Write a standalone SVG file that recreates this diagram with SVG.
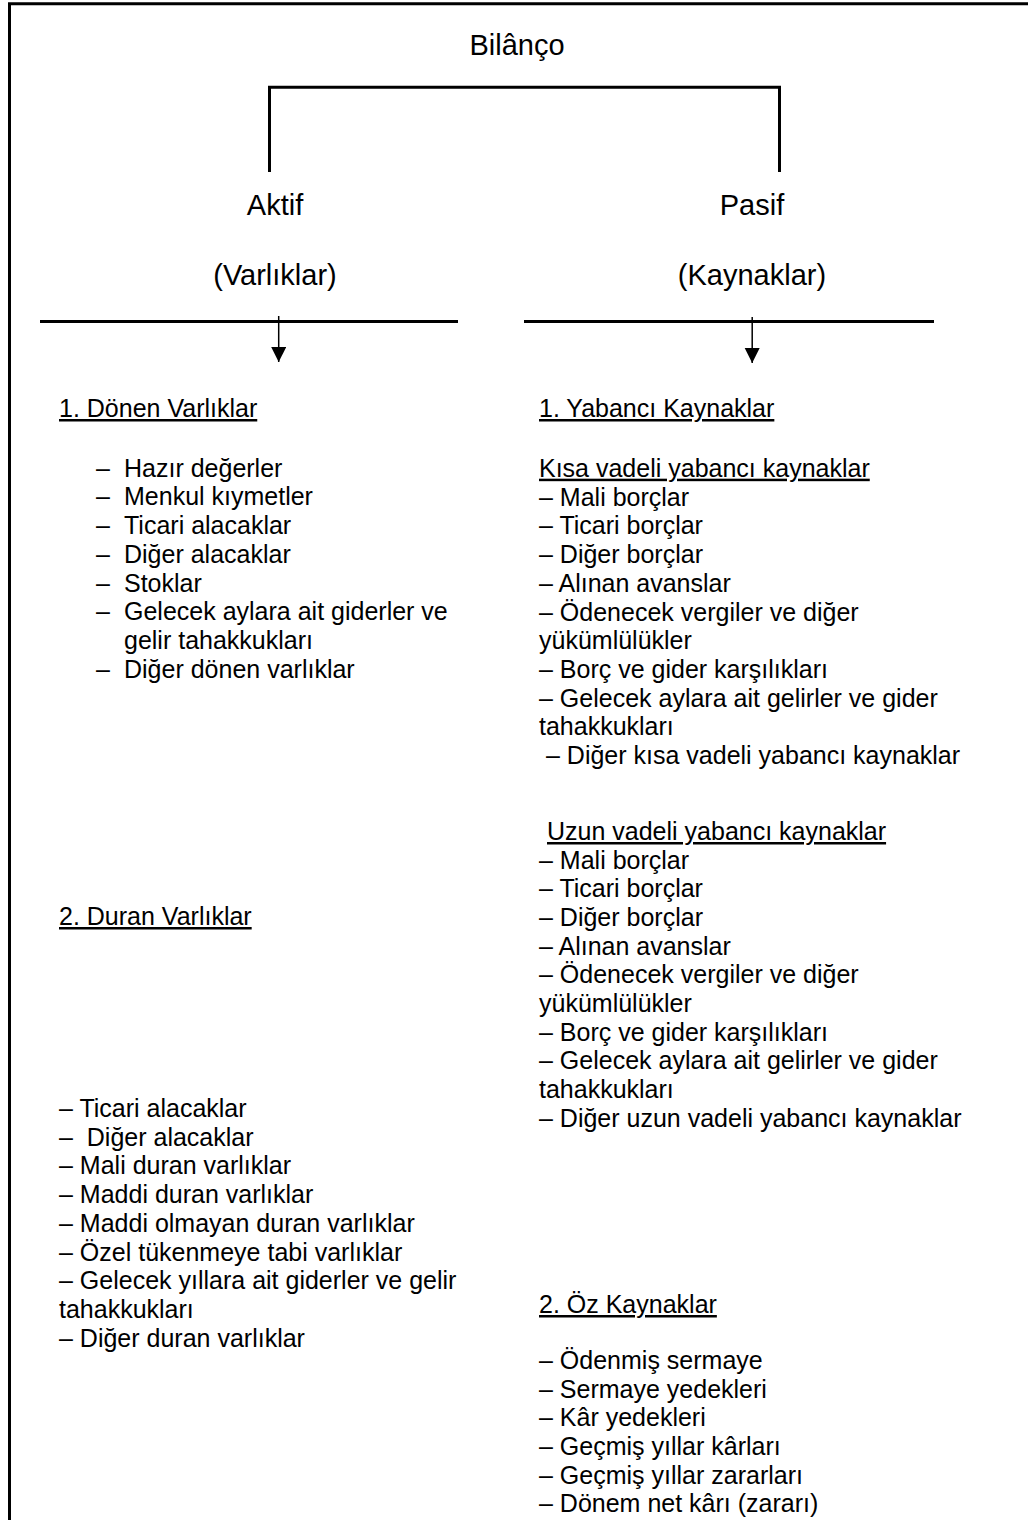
<svg xmlns="http://www.w3.org/2000/svg" width="1028" height="1520" viewBox="0 0 1028 1520">
<defs>
<style>
text{font-family:"Liberation Sans",Arial,sans-serif;font-size:25px;fill:#000;white-space:pre}
.u{text-decoration:underline}
.c{text-anchor:middle;font-size:29px}
.thick{stroke:#000;stroke-width:3;fill:none}
.thin{stroke:#000;stroke-width:1.5;fill:none}
</style>
<marker id="ah" markerUnits="userSpaceOnUse" markerWidth="16" markerHeight="16" refX="15" refY="7.5" orient="auto">
<path d="M0,0 L15,7.5 L0,15 z" fill="#000"/>
</marker>
</defs>
<rect width="1028" height="1520" fill="#fff"/>
<g id="frame">
<path class="thick" d="M9.5,1520 V3.8 H1028"/>
</g>
<g id="connectors">
<path class="thick" d="M269.5,172 V87.2 H779.5 V172"/>
<line class="thick" x1="40" y1="321.5" x2="458" y2="321.5"/>
<line class="thick" x1="524" y1="321.5" x2="934" y2="321.5"/>
<line class="thin" x1="278.7" y1="316" x2="278.7" y2="362" marker-end="url(#ah)"/>
<line class="thin" x1="752.2" y1="317" x2="752.2" y2="363" marker-end="url(#ah)"/>
</g>
<g id="bilanco"><text class="c" x="517" y="55">Bilânço</text></g>
<g id="aktif">
<text class="c" x="275" y="215">Aktif</text>
<text class="c" x="275" y="285">(Varlıklar)</text>
</g>
<g id="pasif">
<text class="c" x="752" y="215">Pasif</text>
<text class="c" x="752" y="285">(Kaynaklar)</text>
</g>
<g id="donen">
<text class="u" x="59" y="417">1. Dönen Varlıklar</text>
<text x="96" y="476.7">–</text><text x="124" y="476.7">Hazır değerler</text>
<text x="96" y="505.4">–</text><text x="124" y="505.4">Menkul kıymetler</text>
<text x="96" y="534.1">–</text><text x="124" y="534.1">Ticari alacaklar</text>
<text x="96" y="562.8">–</text><text x="124" y="562.8">Diğer alacaklar</text>
<text x="96" y="591.5">–</text><text x="124" y="591.5">Stoklar</text>
<text x="96" y="620.2">–</text><text x="124" y="620.2">Gelecek aylara ait giderler ve</text>
<text x="124" y="648.9">gelir tahakkukları</text>
<text x="96" y="677.6">–</text><text x="124" y="677.6">Diğer dönen varlıklar</text>
</g>
<g id="duran">
<text class="u" x="59" y="925">2. Duran Varlıklar</text>
<text x="59" y="1117">– Ticari alacaklar</text>
<text x="59" y="1145.7">–  Diğer alacaklar</text>
<text x="59" y="1174.4">– Mali duran varlıklar</text>
<text x="59" y="1203.1">– Maddi duran varlıklar</text>
<text x="59" y="1231.8">– Maddi olmayan duran varlıklar</text>
<text x="59" y="1260.5">– Özel tükenmeye tabi varlıklar</text>
<text x="59" y="1289.2">– Gelecek yıllara ait giderler ve gelir</text>
<text x="59" y="1317.9">tahakkukları</text>
<text x="59" y="1346.6">– Diğer duran varlıklar</text>
</g>
<g id="yabanci">
<text class="u" x="539" y="417">1. Yabancı Kaynaklar</text>
</g>
<g id="kisa">
<text class="u" x="539" y="476.7">Kısa vadeli yabancı kaynaklar</text>
<text x="539" y="505.7">– Mali borçlar</text>
<text x="539" y="534.4">– Ticari borçlar</text>
<text x="539" y="563.1">– Diğer borçlar</text>
<text x="539" y="591.8">– Alınan avanslar</text>
<text x="539" y="620.5">– Ödenecek vergiler ve diğer</text>
<text x="539" y="649.2">yükümlülükler</text>
<text x="539" y="677.9">– Borç ve gider karşılıkları</text>
<text x="539" y="706.6">– Gelecek aylara ait gelirler ve gider</text>
<text x="539" y="735.3">tahakkukları</text>
<text x="546" y="764">– Diğer kısa vadeli yabancı kaynaklar</text>
</g>
<g id="uzun">
<text class="u" x="547" y="840">Uzun vadeli yabancı kaynaklar</text>
<text x="539" y="868.5">– Mali borçlar</text>
<text x="539" y="897.2">– Ticari borçlar</text>
<text x="539" y="925.9">– Diğer borçlar</text>
<text x="539" y="954.6">– Alınan avanslar</text>
<text x="539" y="983.3">– Ödenecek vergiler ve diğer</text>
<text x="539" y="1012">yükümlülükler</text>
<text x="539" y="1040.7">– Borç ve gider karşılıkları</text>
<text x="539" y="1069.4">– Gelecek aylara ait gelirler ve gider</text>
<text x="539" y="1098.1">tahakkukları</text>
<text x="539" y="1126.8">– Diğer uzun vadeli yabancı kaynaklar</text>
</g>
<g id="oz">
<text class="u" x="539" y="1313">2. Öz Kaynaklar</text>
<text x="539" y="1369">– Ödenmiş sermaye</text>
<text x="539" y="1397.6">– Sermaye yedekleri</text>
<text x="539" y="1426.3">– Kâr yedekleri</text>
<text x="539" y="1455">– Geçmiş yıllar kârları</text>
<text x="539" y="1483.7">– Geçmiş yıllar zararları</text>
<text x="539" y="1512.4">– Dönem net kârı (zararı)</text>
</g>
</svg>
